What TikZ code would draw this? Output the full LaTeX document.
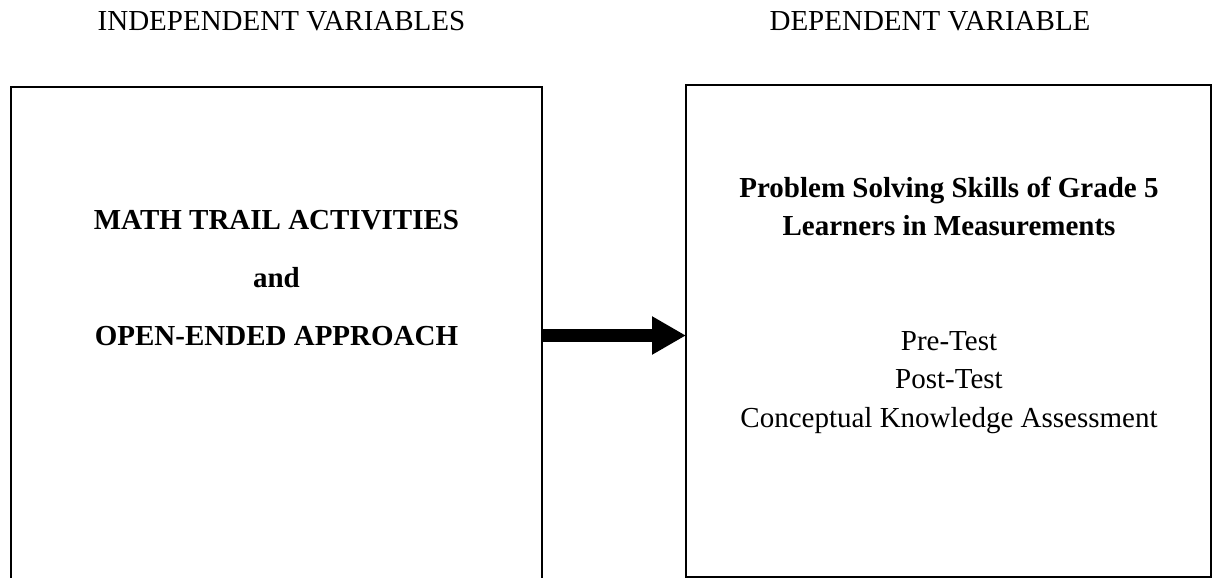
\documentclass[tikz,border=0pt]{standalone}
\usepackage{fontspec}
\setmainfont{Liberation Serif}
\usetikzlibrary{arrows.meta}
\begin{document}
\begin{tikzpicture}[x=1pt,y=-1pt,
  every node/.style={inner sep=0pt, outer sep=0pt},
  txt/.style={font=\fontsize{29}{38}\selectfont, anchor=base},
  bld/.style={anchor=base, font=\fontsize{29}{38}\selectfont\bfseries},
  boxline/.style={line width=2pt},
  bigarrow/.style={line width=12.5pt, -{Triangle[length=34pt,width=36pt]}}]
\useasboundingbox (0,0) rectangle (1213,578);
% boxes
\node[minimum width=531pt, minimum height=495pt, anchor=north west] (L) at (11,87) {};
\draw[boxline] (L.south west) -- (L.north west) -- (L.north east) -- (L.south east);
\node[draw, boxline, minimum width=525pt, minimum height=492pt, anchor=north west] (R) at (686,85) {};
% headings
\node[txt] (iv) at (281.5,31) {INDEPENDENT VARIABLES};
\node[txt] (dv) at (930,31) {DEPENDENT VARIABLE};
% left texts
\node[bld] (m1) at (276.5,229) {MATH TRAIL ACTIVITIES};
\node[bld] (m2) at (276.5,287) {and};
\node[bld] (m3) at (276.5,345) {OPEN-ENDED APPROACH};
% right texts
\node[bld] (p1) at (949,197) {Problem Solving Skills of Grade 5};
\node[bld] (p2) at (949,235) {Learners in Measurements};
\node[txt] (t1) at (949,350) {Pre-Test};
\node[txt] (t2) at (949,388) {Post-Test};
\node[txt] (t3) at (949,427) {Conceptual Knowledge Assessment};
% arrow
\coordinate (ay) at (0,335.5);
\draw[bigarrow] (L.east |- ay) -- (R.west |- ay);
\end{tikzpicture}
\end{document}
